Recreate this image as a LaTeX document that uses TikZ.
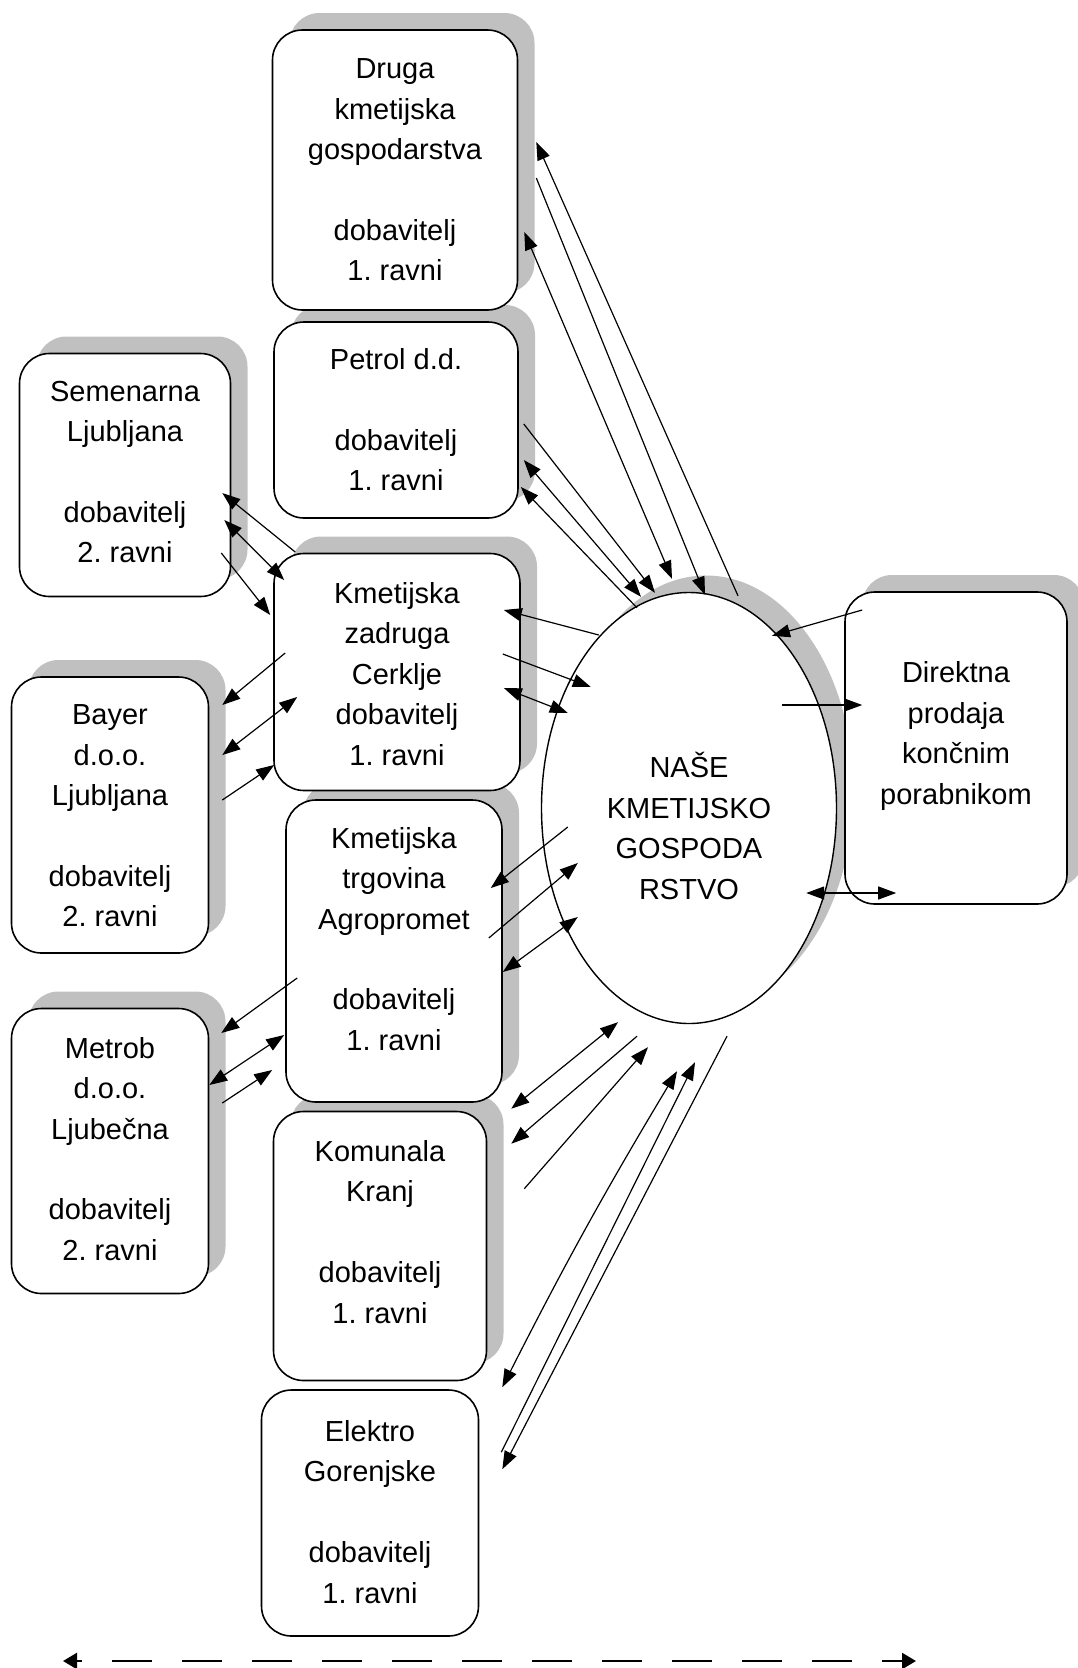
\documentclass[tikz,border=0pt]{standalone}
\usepackage{fontspec}
\setmainfont{Liberation Sans}
\frenchspacing
\usetikzlibrary{arrows.meta, shapes.geometric, shadows, calc}
\definecolor{shadowgray}{HTML}{C0C0C0}

\begin{document}
\begin{tikzpicture}[x=1pt, y=-1pt,
    box/.style={draw, line width=1.6pt, rounded corners=30pt, fill=white, inner sep=0pt},
    shadowed/.style={drop shadow={shadow xshift=17pt, shadow yshift=17pt, fill=shadowgray, opacity=1}},
    txt/.style={align=center, font=\fontsize{29}{40.4}\selectfont, inner sep=0pt},
    link/.style={line width=1.2pt, -{Triangle[length=18pt, width=13pt]}},
    twoway/.style={line width=1.2pt, {Triangle[length=18pt, width=13pt]}-{Triangle[length=18pt, width=13pt]}}]
    \useasboundingbox (0,0) rectangle (1078,1668);

    % Dobavitelji 1. ravni (od spodaj navzgor)
    \node[box, minimum width=217pt, minimum height=246pt] (elektro) at (370,1513) {};
    \node[txt] (elektro-t) at (370,1512) {Elektro\\Gorenjske\\[\baselineskip]dobavitelj\\1. ravni};

    \node[box, shadowed, minimum width=213pt, minimum height=269pt] (komunala) at (380,1246) {};
    \node[txt] (komunala-t) at (380,1232) {Komunala\\Kranj\\[\baselineskip]dobavitelj\\1. ravni};

    \node[box, shadowed, minimum width=216pt, minimum height=302pt] (trgovina) at (394,951) {};
    \node[txt] (trgovina-t) at (394,939) {Kmetijska\\trgovina\\Agropromet\\[\baselineskip]dobavitelj\\1. ravni};

    \node[box, shadowed, minimum width=246pt, minimum height=237pt] (zadruga) at (397,672) {};
    \node[txt] (zadruga-t) at (397,674) {Kmetijska\\zadruga\\Cerklje\\dobavitelj\\1. ravni};

    \node[box, shadowed, minimum width=244pt, minimum height=196pt] (petrol) at (396,420) {};
    \node[txt] (petrol-t) at (396,420) {Petrol d.d.\\[\baselineskip]dobavitelj\\1. ravni};

    \node[box, shadowed, minimum width=245pt, minimum height=280pt] (druga) at (395,170) {};
    \node[txt] (druga-t) at (395,170) {Druga\\kmetijska\\gospodarstva\\[\baselineskip]dobavitelj\\1. ravni};

    % Dobavitelji 2. ravni
    \node[box, shadowed, minimum width=211pt, minimum height=243pt] (semenarna) at (125,475) {};
    \node[txt] (semenarna-t) at (125,472) {Semenarna\\Ljubljana\\[\baselineskip]dobavitelj\\2. ravni};

    \node[box, shadowed, minimum width=197pt, minimum height=276pt] (bayer) at (110,815) {};
    \node[txt] (bayer-t) at (110,816) {Bayer\\d.o.o.\\Ljubljana\\[\baselineskip]dobavitelj\\2. ravni};

    \node[box, shadowed, minimum width=197pt, minimum height=285pt] (metrob) at (110,1151) {};
    \node[txt] (metrob-t) at (110,1149) {Metrob\\d.o.o.\\Ljubečna\\[\baselineskip]dobavitelj\\2. ravni};

    % Nase gospodarstvo in kupci
    \node[draw, ellipse, line width=1.4pt, fill=white, shadowed, inner sep=0pt,
          minimum width=295pt, minimum height=431pt] (farm) at (689,808) {};
    \node[txt] (farm-t) at (689,826) {NAŠE\\KMETIJSKO\\GOSPODA\\RSTVO};

    \node[box, shadowed, minimum width=222pt, minimum height=312pt] (direktna) at (956,748) {};
    \node[txt] (direktna-t) at (956,736) {Direktna\\prodaja\\končnim\\porabnikom};

    % Druga kmetijska gospodarstva
    \draw[link] ($(farm.north)+(49,4)$) -- ($(druga.east)+(18,-28)$);
    \draw[link] ($(druga.east)+(18,8)$) -- ($(farm.north)+(16,3)$);
    \draw[twoway] ($(druga.east)+(6,62)$) -- ($(farm.north)+(-17,-13)$);

    % Petrol
    \draw[link] ($(petrol.east)+(5,4)$) -- ($(farm.north)+(-34,1)$);
    \draw[twoway] ($(petrol.east)+(5,40)$) -- ($(farm.north)+(-48,5)$);
    \draw[link] ($(farm.north)+(-52,16)$) -- ($(petrol.east)+(2,67)$);

    % Semenarna - zadruga
    \draw[link] ($(zadruga.west)+(22,-120)$) -- ($(semenarna.east)+(-9,18)$);
    \draw[twoway] ($(semenarna.east)+(-7,45)$) -- ($(zadruga.west)+(11,-92)$);
    \draw[link] ($(semenarna.east)+(-10,78)$) -- ($(zadruga.west)+(-3,-57)$);

    % Bayer - zadruga
    \draw[link] ($(zadruga.west)+(12,-19)$) -- ($(bayer.east)+(13,-110)$);
    \draw[twoway] ($(zadruga.west)+(24,25)$) -- ($(bayer.east)+(13,-60)$);
    \draw[link] ($(bayer.east)+(13,-15)$) -- ($(zadruga.west)+(1,93)$);

    % Zadruga - gospodarstvo
    \draw[link] ($(farm.west)+(58,-173)$) -- ($(zadruga.east)+(-17,-62)$);
    \draw[link] ($(zadruga.east)+(-18,-18)$) -- ($(farm.west)+(50,-121)$);
    \draw[twoway] ($(zadruga.east)+(-17,16)$) -- ($(farm.west)+(27,-95)$);

    % Trgovina - gospodarstvo
    \draw[link] ($(farm.west)+(27,19)$) -- ($(trgovina.east)+(-12,-63)$);
    \draw[link] ($(trgovina.east)+(-14,-13)$) -- ($(farm.west)+(37,55)$);
    \draw[twoway] ($(trgovina.east)+(0,21)$) -- ($(farm.west)+(37,109)$);

    % Metrob - trgovina
    \draw[link] ($(trgovina.west)+(12,27)$) -- ($(metrob.east)+(12,-118)$);
    \draw[twoway] ($(trgovina.west)+(-1,84)$) -- ($(metrob.east)+(0,-66)$);
    \draw[link] ($(metrob.east)+(13,-48)$) -- ($(trgovina.west)+(-13,119)$);

    % Komunala
    \draw[twoway] ($(farm.south)+(-71,-2)$) -- ($(komunala.north east)+(24,-2)$);
    \draw[link] ($(farm.south)+(-52,12)$) -- ($(komunala.north east)+(24,33)$);
    \draw[link] ($(komunala.north east)+(37,78)$) -- ($(farm.south)+(-41,23)$);

    % Elektro
    \draw[twoway] ($(farm.south)+(-12,47)$) to[bend right=2] ($(elektro.north east)+(23,-2)$);
    \draw[link] ($(elektro.north east)+(22,63)$) -- ($(farm.south)+(6,38)$);
    \draw[link] ($(farm.south)+(38,12)$) -- ($(elektro.north east)+(23,80)$);

    % Direktna prodaja
    \draw[link] ($(direktna.west)+(18,-138)$) -- ($(farm.north)+(83,44)$);
    \draw[link] ($(farm.east)+(-55,-103)$) -- ($(direktna.west)+(18,-43)$);
    \draw[twoway] ($(farm.east)+(-31,85)$) -- ($(direktna.west)+(52,145)$);

    % Crtkana puscica spodaj
    \coordinate (scale-left) at (63,1661);
    \coordinate (scale-right) at (916,1661);
    \draw[line width=2.4pt, dash pattern=on 40pt off 30pt, dash phase=34pt,
          {Triangle[length=14pt, width=16pt]}-{Triangle[length=14pt, width=16pt]}] (scale-left) -- (scale-right);
\end{tikzpicture}
\end{document}
